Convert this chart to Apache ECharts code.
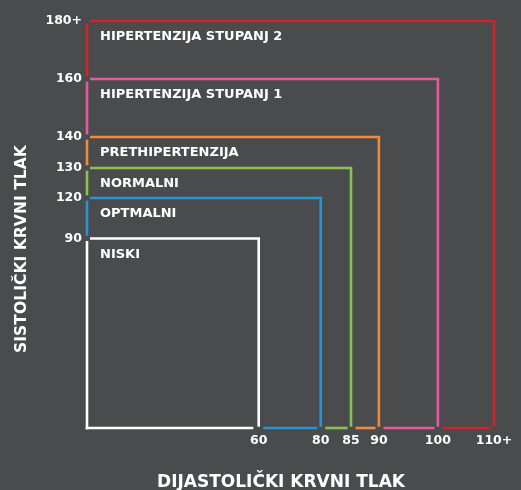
<!DOCTYPE html>
<html>
<head>
<meta charset="utf-8">
<script src="https://cdn.jsdelivr.net/npm/echarts@6/dist/echarts.min.js"></script>
<style>
html,body{margin:0;padding:0;background:#4a4b4d;}
#chart{width:521px;height:490px;}
</style>
</head>
<body>
<div id="chart"></div>
<script>
// ---- data ----
const categories = ['NISKI', 'OPTMALNI', 'NORMALNI', 'PRETHIPERTENZIJA', 'HIPERTENZIJA STUPANJ 1', 'HIPERTENZIJA STUPANJ 2'];
const diastolic = [60, 80, 85, 90, 100, 110];
const systolic = [90, 120, 130, 140, 160, 180];
const diastolicLabels = ['60', '80', '85', '90', '100', '110+'];
const systolicLabels = ['90', '120', '130', '140', '160', '180+'];

// ---- layout: the infographic axes are not to scale; slot position of each threshold ----
const xSlotOf = {60: 5.906, 80: 8.039, 85: 9.081, 90: 10.04, 100: 12.07, 110: 14};
const ySlotOf = {90: 6.519, 120: 7.912, 130: 8.944, 140: 10.01, 160: 12.006, 180: 14};
const colors = ['#ffffff', '#2b93d1', '#8bc153', '#f08a3c', '#e9579e', '#d3232a'];

const xSlots = diastolic.map(v => xSlotOf[v]);
const ySlots = systolic.map(v => ySlotOf[v]);

const seriesData = categories.map((c, i) => [
  xSlots[i], ySlots[i],
  i ? xSlots[i - 1] : 0, i ? ySlots[i - 1] : 0,
  i
]);

function findIdx(arr, v) {
  for (let k = 0; k < arr.length; k++) if (Math.abs(arr[k] - v) < 1e-6) return k;
  return -1;
}

const chart = echarts.init(document.getElementById('chart'));
const LW = 2.6, H = LW / 2;
const FONT = '"DejaVu Sans", sans-serif';

chart.setOption({
  backgroundColor: '#4a4b4d',
  animation: false,
  grid: {left: 87, right: 27, top: 21, bottom: 62},
  xAxis: {
    type: 'value', min: 0, max: 14,
    splitLine: {show: false}, axisLine: {show: false}, axisTick: {show: false},
    axisLabel: {
      customValues: xSlots,
      formatter: v => { const k = findIdx(xSlots, v); return k >= 0 ? diastolicLabels[k] : ''; },
      color: '#ffffff', fontWeight: 'bold', fontSize: 12.5, fontFamily: FONT, margin: 6
    }
  },
  yAxis: {
    type: 'value', min: 0, max: 14,
    splitLine: {show: false}, axisLine: {show: false}, axisTick: {show: false},
    axisLabel: {
      customValues: ySlots,
      formatter: v => { const k = findIdx(ySlots, v); return k >= 0 ? systolicLabels[k] : ''; },
      color: '#ffffff', fontWeight: 'bold', fontSize: 12.5, fontFamily: FONT, margin: 5
    }
  },
  graphic: [
    {type: 'text', x: 281, y: 482.5, style: {text: 'DIJASTOLIČKI KRVNI TLAK', fill: '#ffffff', font: 'bold 17px ' + FONT, align: 'center', verticalAlign: 'middle'}},
    {type: 'text', x: 22, y: 249, rotation: Math.PI / 2, style: {text: 'SISTOLIČKI KRVNI TLAK', fill: '#ffffff', font: 'bold 15.6px ' + FONT, align: 'center', verticalAlign: 'middle'}}
  ],
  series: [{
    type: 'custom',
    coordinateSystem: 'cartesian2d',
    clip: false,
    data: seriesData,
    renderItem: function (params, api) {
      const i = api.value(4);
      const pr = api.coord([api.value(0), api.value(1)]);
      const pp = api.coord([api.value(2), api.value(3)]);
      const p0 = api.coord([0, 0]);
      const xr = pr[0], yt = pr[1], xp = pp[0], yp = pp[1], x0 = p0[0], y0 = p0[1];
      const col = colors[i];
      const st = {stroke: col, lineWidth: LW, fill: null};
      const seg = (x1, y1, x2, y2) => ({type: 'line', shape: {x1, y1, x2, y2}, style: st});
      const kids = [];
      if (i === 0) {
        kids.push(seg(x0, y0 + H, x0, yt + 2.5));
        kids.push(seg(x0 - H, y0, xr - 5.4, y0));
      } else {
        kids.push(seg(x0, yp - 2.6, x0, yt + 2.7));
        kids.push(seg(xp + 4.6, y0, xr - 3.4, y0));
      }
      kids.push(seg(x0 + 3, yt, xr + H, yt));
      kids.push(seg(xr, yt, xr, y0 - H));
      kids.push({
        type: 'text',
        style: {text: categories[i], x: x0 + 13, y: yt + 16, fill: '#ffffff', font: 'bold 13px ' + FONT, align: 'left', verticalAlign: 'middle'}
      });
      return {type: 'group', children: kids};
    }
  }]
});
</script>
</body>
</html>
